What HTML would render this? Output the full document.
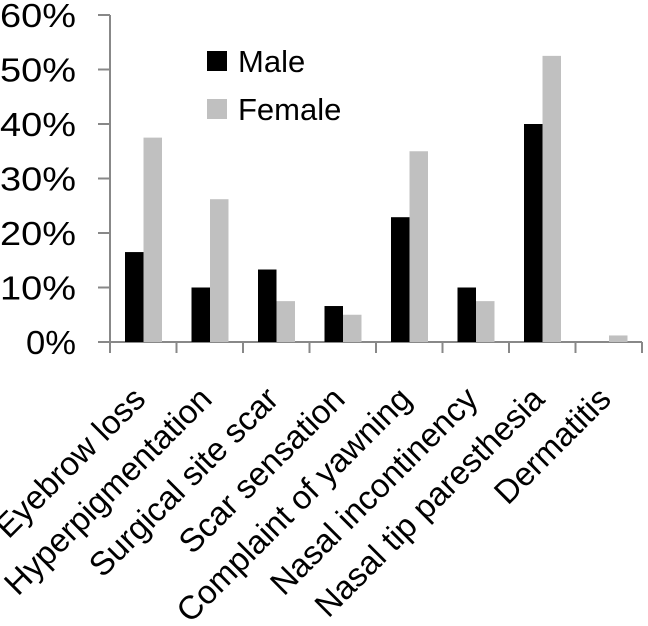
<!DOCTYPE html>
<html><head><meta charset="utf-8"><style>body{margin:0;background:#fff}svg{display:block;font-family:"Liberation Sans",sans-serif}</style></head>
<body>
<svg id="chart" width="648" height="626" viewBox="0 0 648 626"></svg>
<script>
const categories=["Eyebrow loss","Hyperpigmentation","Surgical site scar","Scar sensation","Complaint of yawning","Nasal incontinency","Nasal tip paresthesia","Dermatitis"];
const maleValues=[16.5,10,13.3,6.6,22.9,10,40,0];
const femaleValues=[37.5,26.2,7.5,5,35,7.5,52.5,1.2];
const yTicks=[0,10,20,30,40,50,60];
const yTickLabels=["0%","10%","20%","30%","40%","50%","60%"];
const svg=document.getElementById('chart');const NS='http://www.w3.org/2000/svg';
const x0=110,cw=66.5,y0=342,yTop=15;
const yS=v=>y0-(v/60)*(y0-yTop);
function mk(t,a){const e=document.createElementNS(NS,t);for(const k in a)e.setAttribute(k,a[k]);svg.appendChild(e);return e;}
const ax=mk('line',{x1:x0,y1:yTop,x2:x0,y2:y0,stroke:'#888','stroke-width':2});


const bx=mk('line',{x1:98,y1:y0,x2:x0+cw*8,y2:y0,stroke:'#888','stroke-width':2});


yTicks.forEach((v,i)=>{
 const l=mk('line',{x1:98,y1:yS(v),x2:x0,y2:yS(v),stroke:'#888','stroke-width':2});
 
 
 const t=mk('text',{x:76,y:yS(v)+12,'text-anchor':'end','font-size':33,fill:'#000',textLength:76,lengthAdjust:'spacingAndGlyphs'});
 t.textContent=yTickLabels[i];
 if(i===0){t.setAttribute('textLength',50);}
 
 
});
for(let i=0;i<=8;i++){
 const l=mk('line',{x1:x0+cw*i,y1:y0,x2:x0+cw*i,y2:y0+11,stroke:'#888','stroke-width':2});
 
 
}
categories.forEach((c,i)=>{
 const gx=x0+cw*i+15;
 const m=mk('rect',{x:gx,y:yS(maleValues[i]),width:18.5,height:y0-yS(maleValues[i]),fill:'#000'});
 
 
 const f=mk('rect',{x:gx+18.5,y:yS(femaleValues[i]),width:18.5,height:y0-yS(femaleValues[i]),fill:'#c0c0c0'});
 
 
 const cx=x0+cw*i+cw/2+4,cy=401;
 const t=mk('text',{x:cx,y:cy,'text-anchor':'end','font-size':33,fill:'#000',transform:`rotate(-45 ${cx} ${cy})`});
 t.textContent=c;
 
 
});
const lg=[["Male","#000",51],["Female","#c0c0c0",99]];
lg.forEach(d=>{
 const r=mk('rect',{x:207,y:d[2],width:20,height:20,fill:d[1]});
 
 
 const t=mk('text',{x:238,y:d[2]+21,'font-size':31,fill:'#000'});
 t.textContent=d[0];
 
 
});
</script>
</body></html>
